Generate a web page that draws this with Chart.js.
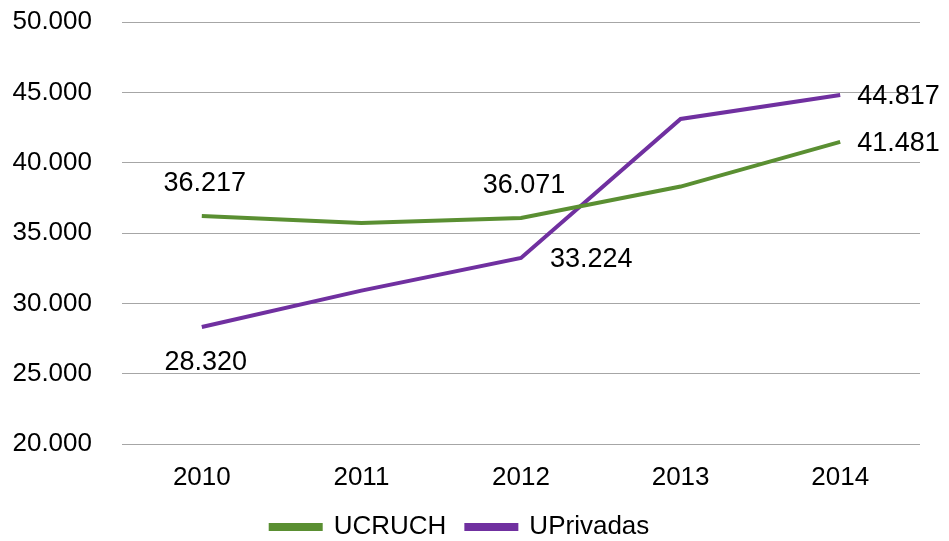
<!DOCTYPE html>
<html>
<head>
<meta charset="utf-8">
<script src="https://cdn.jsdelivr.net/npm/chart.js@4.4.1/dist/chart.umd.min.js"></script>
<style>
  html, body { margin: 0; padding: 0; background: #fff; }
  #wrap { width: 949px; height: 541px; position: relative; }
</style>
</head>
<body>
<div id="wrap"><canvas id="lineChart"></canvas></div>
<script>
// datos
const years = ['2010', '2011', '2012', '2013', '2014'];
const ucruch = [36217, 35710, 36071, 38300, 41481];
const uprivadas = [28320, 30900, 33224, 43110, 44817];
// qué puntos llevan etiqueta (null = sin etiqueta)
const ucruchLabelPos = ['top', null, 'top', null, 'right'];
const uprivadasLabelPos = ['bottom', null, 'right', null, 'right'];

const FONT = 'Liberation Sans, Arial, sans-serif';

function fmt(v) {
    return String(Math.round(v)).replace(/\B(?=(\d{3})+(?!\d))/g, '.');
}

// etiquetas de datos a mano (sin plugin externo)
const pointLabels = {
    id: 'pointLabels',
    afterDatasetsDraw(chart) {
        const ctx = chart.ctx;
        ctx.save();
        ctx.font = '27px ' + FONT;
        ctx.fillStyle = '#000';
        chart.data.datasets.forEach((ds, i) => {
            const meta = chart.getDatasetMeta(i);
            meta.data.forEach((pt, j) => {
                const pos = ds.labelPos[j];
                if (!pos) return;
                const txt = fmt(ds.data[j]);
                let x = pt.x, y = pt.y;
                if (pos === 'top') { ctx.textAlign = 'center'; y -= 32; x += 3; }
                else if (pos === 'bottom') { ctx.textAlign = 'center'; y += 36; x += 4; }
                else { ctx.textAlign = 'left'; x += (j === 2 ? 29 : 17); y += 2; }
                ctx.textBaseline = 'middle';
                ctx.fillText(txt, x, y);
            });
        });
        ctx.restore();
    }
};

new Chart(document.getElementById('lineChart').getContext('2d'), {
    type: 'line',
    data: {
        labels: years,
        datasets: [
            {
                label: 'UCRUCH',
                data: ucruch,
                labelPos: ucruchLabelPos,
                borderColor: '#5a8f32',
                backgroundColor: '#5a8f32',
                borderWidth: 4,
                pointRadius: 0,
                tension: 0
            },
            {
                label: 'UPrivadas',
                data: uprivadas,
                labelPos: uprivadasLabelPos,
                borderColor: '#7030a0',
                backgroundColor: '#7030a0',
                borderWidth: 4,
                pointRadius: 0,
                tension: 0
            }
        ]
    },
    options: {
        responsive: true,
        maintainAspectRatio: false,
        animation: false,
        layout: { padding: { top: 22, right: 29, left: 0, bottom: -9 } },
        plugins: {
            legend: {
                position: 'bottom',
                labels: {
                    font: { family: FONT, size: 26 },
                    color: '#000',
                    boxWidth: 50,
                    boxHeight: 4,
                    padding: 20
                }
            },
            tooltip: { enabled: false }
        },
        scales: {
            y: {
                min: 20000,
                max: 50000,
                afterFit(axis) {
                    axis.width = 122;
                    axis.paddingTop = 0;
                    axis.paddingBottom = 0;
                },
                ticks: {
                    stepSize: 5000,
                    padding: 30,
                    color: '#000',
                    font: { family: FONT, size: 26 },
                    callback: v => fmt(v)
                },
                grid: { color: '#a6a6a6', lineWidth: 1, drawTicks: false },
                border: { display: false }
            },
            x: {
                offset: true,
                afterFit(axis) { axis.height = 50; },
                ticks: {
                    padding: 18,
                    color: '#000',
                    font: { family: FONT, size: 26 }
                },
                grid: { display: false, drawTicks: false },
                border: { display: false }
            }
        }
    },
    plugins: [pointLabels]
});
</script>
</body>
</html>
